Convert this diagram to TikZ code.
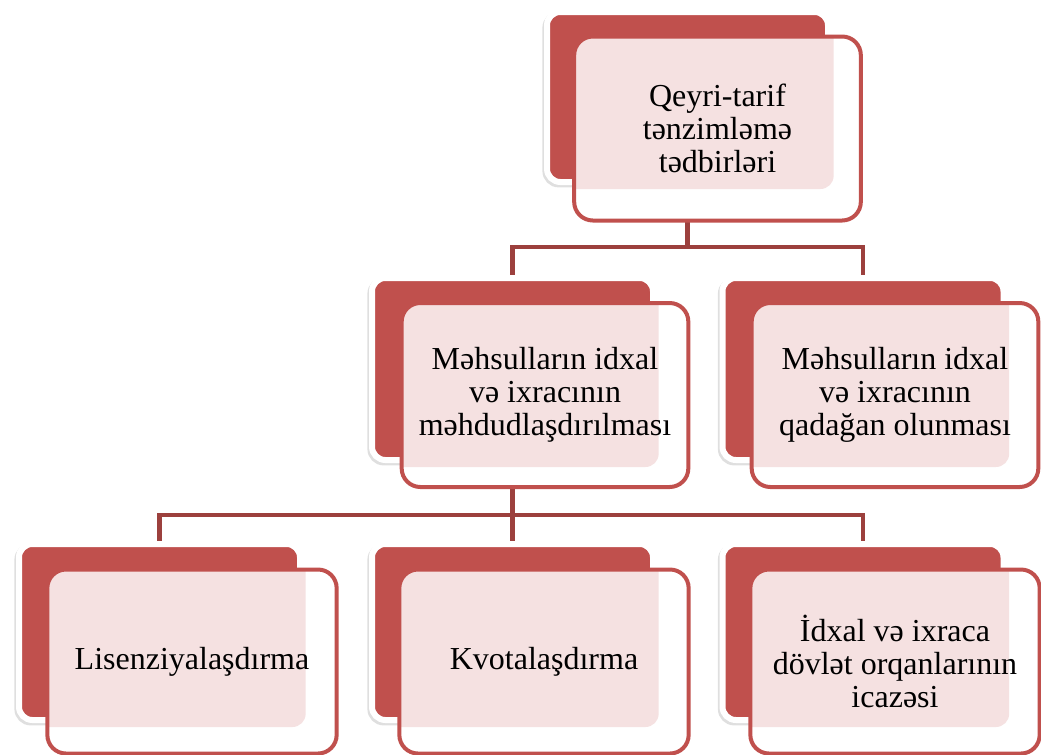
\documentclass[tikz,border=0pt]{standalone}
\usepackage{fontspec}
\setmainfont{Liberation Serif}
\usetikzlibrary{shadows}
\pgfdeclarelayer{background}
\pgfsetlayers{background,main}
\definecolor{boxred}{RGB}{192,80,77}
\definecolor{linered}{RGB}{156,64,61}
\definecolor{tint}{RGB}{245,225,225}
\tikzset{
  backbox/.style={rectangle, rounded corners=10pt, fill=boxred, draw=white, line width=4.5pt,
    minimum width=210.75pt, inner sep=0pt,
    general shadow={draw=black!25, line width=4.5pt, fill=black!25, shadow xshift=-1.2pt, shadow yshift=-1.8pt, opacity=0.5}},
  frontbox/.style={rectangle, rounded corners=14pt, fill=white, draw=boxred, line width=3pt,
    minimum width=215pt, minimum height=138pt, inner sep=0pt, align=center,
    font=\fontsize{24}{24.75}\selectfont},
  tintof/.style={path picture={\fill[tint, rounded corners=10pt]
      ([shift={(-3pt,-3pt)}]#1.south west) rectangle ([shift={(2pt,3pt)}]#1.north east);}},
  conn/.style={draw=linered, line width=3.6pt, line cap=rect}
}
\begin{document}
\begin{tikzpicture}[x=0.75pt,y=-0.75pt]
\useasboundingbox (0,0) rectangle (1041,754);
% back boxes
\node[backbox, minimum height=127.5pt] (tb) at (687.5,97) {};
\node[backbox, minimum height=136.5pt] (mlb) at (512.5,369) {};
\node[backbox, minimum height=136.5pt] (mrb) at (863,369) {};
\node[backbox, minimum height=132pt] (blb) at (159.5,632) {};
\node[backbox, minimum height=132pt] (bmb) at (512.5,632) {};
\node[backbox, minimum height=132pt] (brb) at (863,632) {};
% front boxes
\node[frontbox, tintof=tb] (tf) at (717.5,128.5) {\vphantom{Qy}Qeyri-tarif\\tənzimləmə\\tədbirləri};
\node[frontbox, tintof=mlb] (mlf) at (545,395) {Məhsulların idxal\\və ixracının\\məhdudlaşdırılması};
\node[frontbox, tintof=mrb] (mrf) at (895,395) {Məhsulların idxal\\və ixracının\\qadağan olunması};
\node[frontbox, tintof=blb, minimum width=217pt] (blf) at (192,661.5) {Lisenziyalaşdırma};
\node[frontbox, tintof=bmb, minimum width=217pt] (bmf) at (544,661.5) {Kvotalaşdırma};
\node[frontbox, tintof=brb, minimum width=217pt] (brf) at (895,661.5) {İdxal və ixraca\\dövlət orqanlarının\\icazəsi};
% connectors (behind the boxes)
\coordinate (j1) at (687.5,247);
\coordinate (j2) at (512.5,515);
\begin{pgfonlayer}{background}
\draw[conn] (tf.south -| tb.center) -- (j1);
\draw[conn] (mlb.north) |- (j1) -| (mrb.north);
\draw[conn] (mlf.south -| mlb.center) -- (j2);
\draw[conn] (blb.north) |- (j2) -| (brb.north);
\draw[conn] (j2) -- (bmb.north);
\end{pgfonlayer}
\end{tikzpicture}
\end{document}
